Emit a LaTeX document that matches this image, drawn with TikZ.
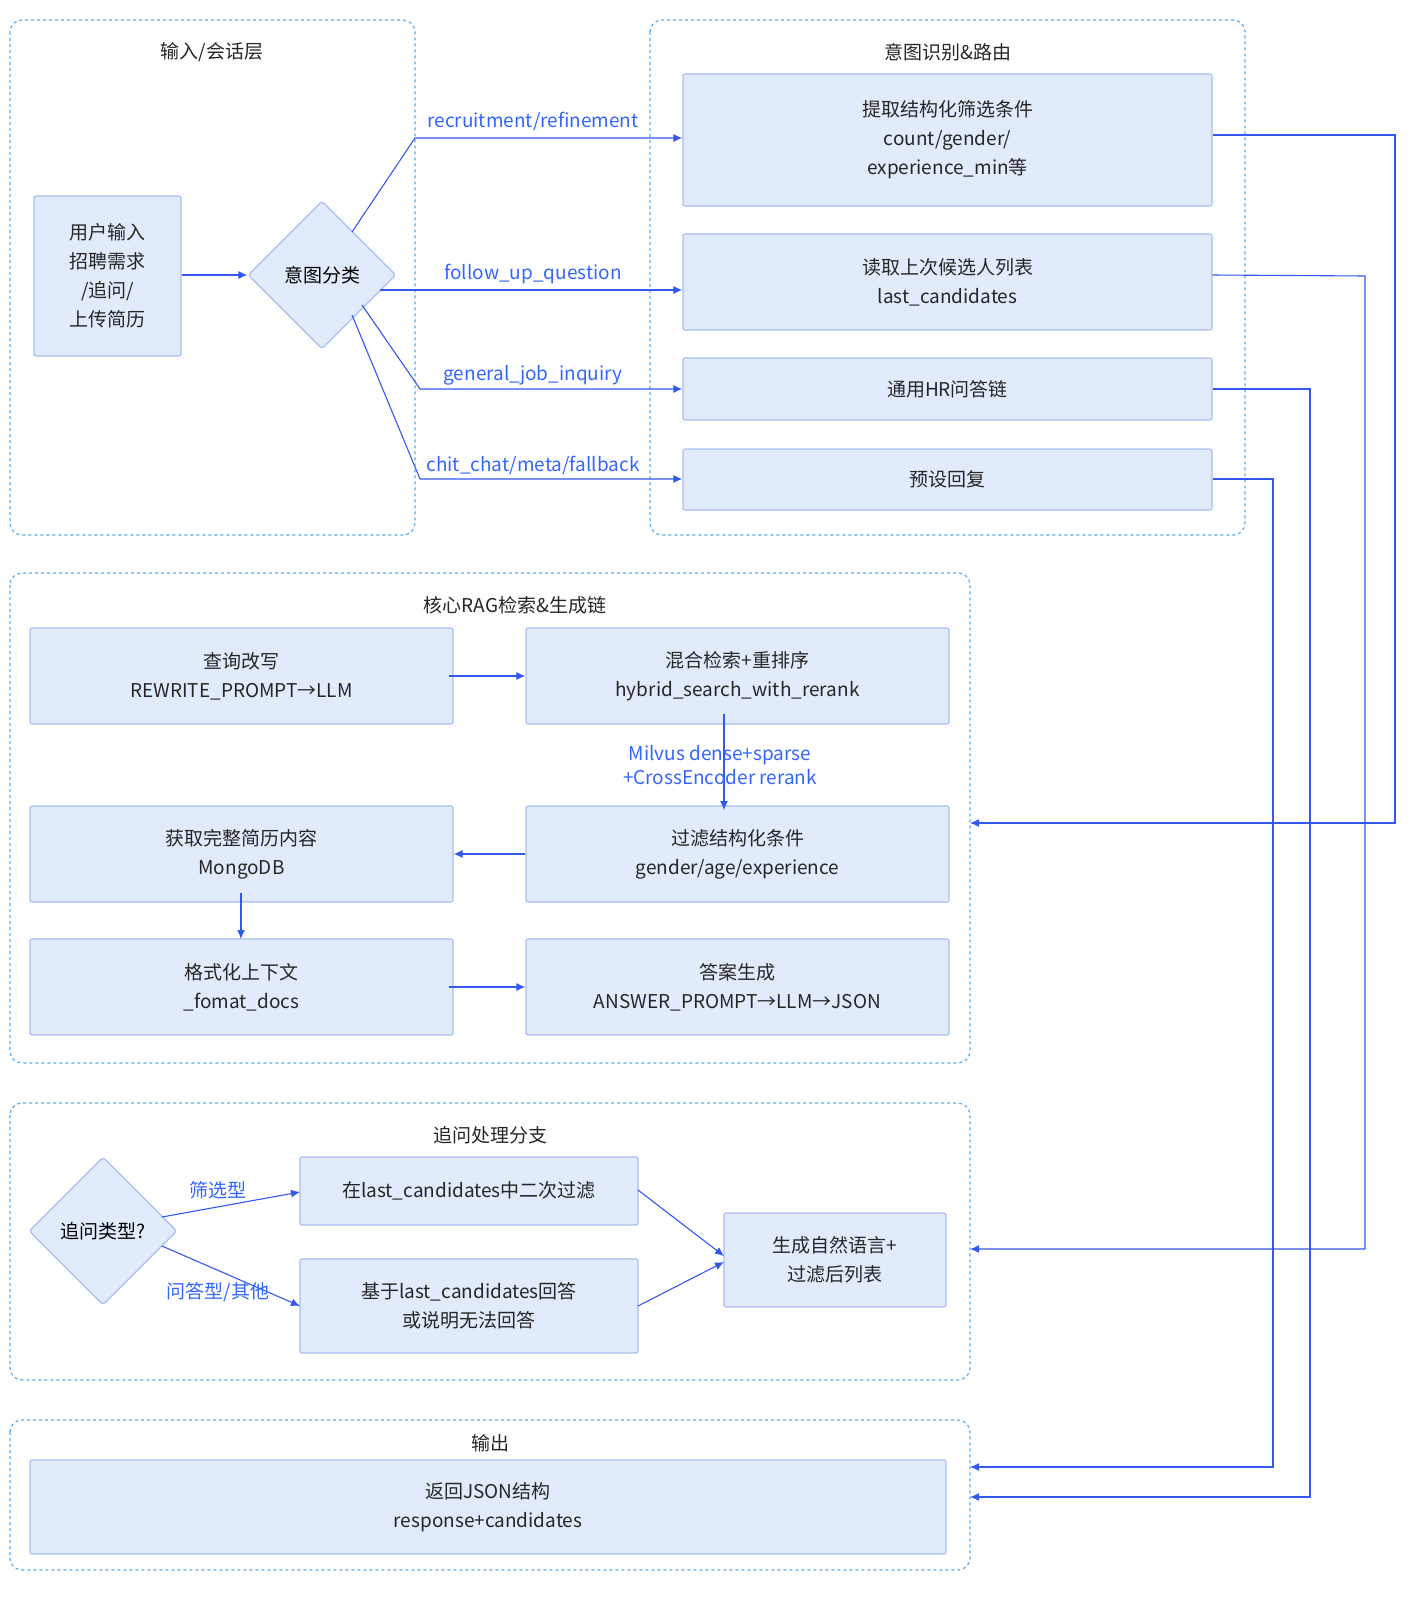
\documentclass[tikz,border=0pt]{standalone}
\usepackage{fontspec}
\setmainfont{Noto Sans CJK SC}
\usetikzlibrary{arrows.meta,shapes.geometric}
\definecolor{nfill}{HTML}{E2EBFC}
\definecolor{nline}{HTML}{A8BDF0}
\definecolor{arr}{HTML}{3358F0}
\definecolor{lab}{HTML}{3366FF}
\definecolor{grp}{HTML}{55AAEE}
\tikzset{
 grpbox/.style={draw=grp,dashed,rounded corners=12pt,line width=1.2pt},
 box/.style={draw=nline,fill=nfill,line width=1.2pt,rounded corners=2pt,align=center,font=\fontsize{19}{29}\selectfont,text=black!85},
 dia/.style={diamond,draw=nline,fill=nfill,line width=1.2pt,rounded corners=3pt,font=\fontsize{19}{24}\selectfont,minimum width=148pt,minimum height=148pt,inner sep=0pt},
 ttl/.style={font=\fontsize{19}{24}\selectfont,text=black!85},
 lbl/.style={font=\fontsize{19}{24}\selectfont,text=lab,align=center},
 ar/.style={draw=arr,line width=1.1pt,-{Latex[length=9pt,width=8pt]}},
}
\begin{document}
\begin{tikzpicture}[x=1pt,y=-1pt]
\useasboundingbox (0,0) rectangle (1408,1602);
% groups
\draw[grpbox] (10,20) rectangle (415,535);
\draw[grpbox] (650,20) rectangle (1245,535);
\draw[grpbox] (10,573) rectangle (970,1063);
\draw[grpbox] (10,1103) rectangle (970,1380);
\draw[grpbox] (10,1420) rectangle (970,1570);
\node[ttl] (t1) at (212,52) {输入/会话层};
\node[ttl] (t2) at (948,52) {意图识别\&路由};
\node[ttl] (t3) at (515,605) {核心RAG检索\&生成链};
\node[ttl] (t4) at (490,1135) {追问处理分支};
\node[ttl] (t5) at (490,1443) {输出};
% nodes
\newcommand{\bx}[6]{\node[box,minimum width=#4-#2,minimum height=#5-#3] (#1) at ({(#2+#4)/2},{(#3+#5)/2}) {#6};}
\bx{user}{34}{196}{181}{356}{用户输入\\招聘需求\\/追问/\\上传简历}
\node[dia] (cls) at (322,275) {意图分类};
\bx{extract}{683}{74}{1212}{206}{提取结构化筛选条件\\count/gender/\\experience\_min等}
\bx{read}{683}{234}{1212}{330}{读取上次候选人列表\\last\_candidates}
\bx{hr}{683}{358}{1212}{420}{通用HR问答链}
\bx{preset}{683}{449}{1212}{510}{预设回复}
\bx{rewrite}{30}{628}{453}{724}{查询改写\\REWRITE\_PROMPT→LLM}
\bx{hybrid}{526}{628}{949}{724}{混合检索+重排序\\hybrid\_search\_with\_rerank}
\bx{filter}{526}{806}{949}{902}{过滤结构化条件\\gender/age/experience}
\bx{fetch}{30}{806}{453}{902}{获取完整简历内容\\MongoDB}
\bx{format}{30}{939}{453}{1035}{格式化上下文\\\_fomat\_docs}
\bx{answer}{526}{939}{949}{1035}{答案生成\\ANSWER\_PROMPT→LLM→JSON}
\node[dia] (fq) at (103,1231) {追问类型?};
\bx{filter2}{300}{1157}{638}{1225}{在last\_candidates中二次过滤}
\bx{answer2}{300}{1259}{638}{1353}{基于last\_candidates回答\\或说明无法回答}
\bx{gen}{724}{1213}{946}{1307}{生成自然语言+\\过滤后列表}
\bx{out}{30}{1460}{946}{1554}{返回JSON结构\\response+candidates}
% coordinates
\coordinate (g1) at (970,823);
\coordinate (g2) at (970,1249);
\coordinate (g3) at (970,1497);
\coordinate (g4) at (970,1467);
% edges
\draw[ar] (user.east |- cls) -- (cls.west);
\draw[ar] (352,232) -- (415,138) -- (extract.west |- 0,138);
\draw[ar] (380,290) -- (read.west |- 0,290);
\draw[ar] (362,305) -- (420,389) -- (hr.west |- 0,389);
\draw[ar] (352,315) -- (420,479) -- (preset.west |- 0,479);
\node[lbl] (l1) at (533,122) {recruitment/refinement};
\node[lbl] (l2) at (533,274) {follow\_up\_question};
\node[lbl] (l3) at (533,375) {general\_job\_inquiry};
\node[lbl] (l4) at (533,466) {chit\_chat/meta/fallback};
\draw[ar] (extract.east |- 0,135) -- (1395,135) -- (1395,823) -- (g1);
\draw[ar] (read.east |- 0,275) -- (1365,276) -- (1365,1249) -- (g2);
\draw[ar] (hr.east |- 0,389) -- (1310,389) -- (1310,1497) -- (g3);
\draw[ar] (preset.east |- 0,479) -- (1273,479) -- (1273,1467) -- (g4);
\draw[ar] (449,676) -- (rewrite.east -| hybrid.west);
\draw[ar] (724,714) -- (724,810);
\node[lbl] (l5) at (720,765) {Milvus dense+sparse\\+CrossEncoder rerank};
\draw[ar] (filter.west) -- (fetch.east);
\draw[ar] (241,893) -- (241,939);
\draw[ar] (449,987) -- (format.east -| answer.west);
\draw[ar] (162,1217) -- (300,1192);
\draw[ar] (162,1246) -- (300,1306);
\node[lbl] (l6) at (218,1190) {筛选型};
\node[lbl] (l7) at (218,1292) {问答型/其他};
\draw[ar] (638,1190) -- (724,1256);
\draw[ar] (638,1306) -- (724,1262);
\end{tikzpicture}
\end{document}
